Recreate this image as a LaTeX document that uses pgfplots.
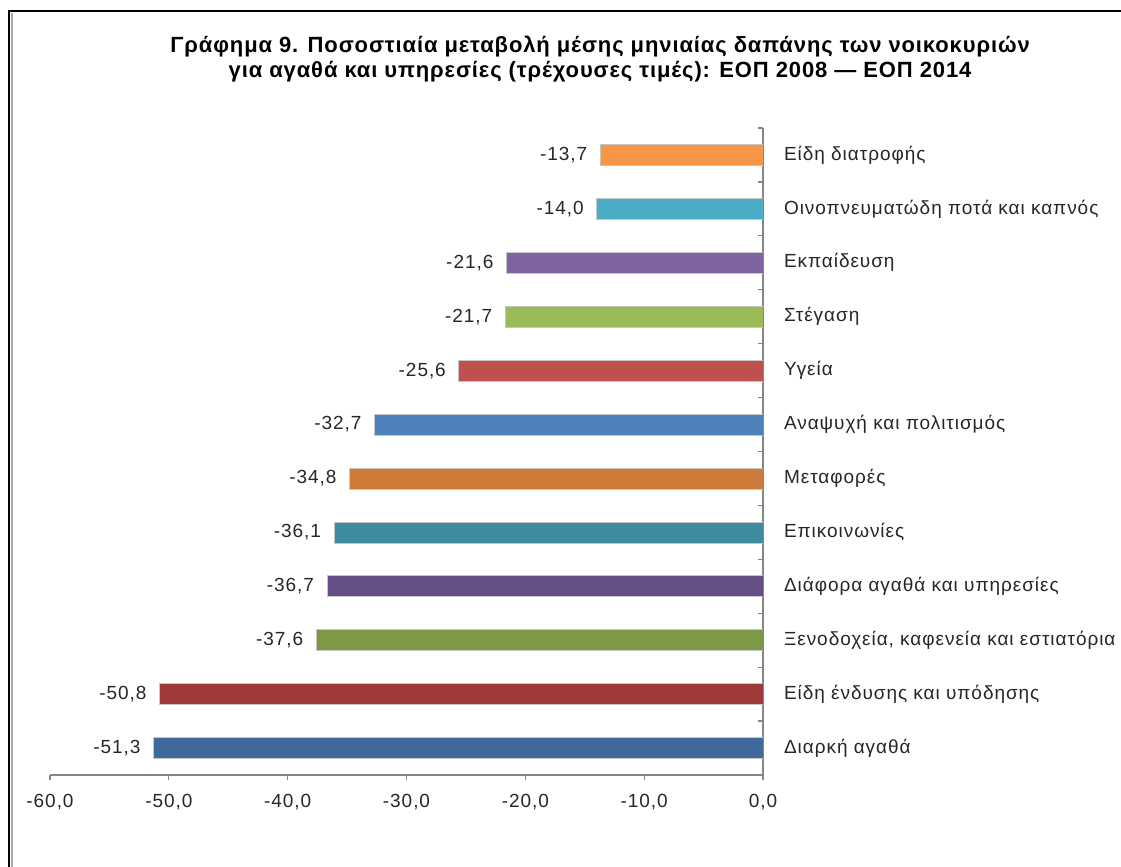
\documentclass[border=0pt]{standalone}
\usepackage{pgfplots}
\pgfplotsset{compat=1.18}
\usepackage{fontspec}
\setmainfont{Liberation Sans}[LetterSpace=5]
\newfontfamily\titlefont{Liberation Sans}[LetterSpace=4]
\definecolor{c1}{RGB}{247,150,70}
\definecolor{c2}{RGB}{75,172,198}
\definecolor{c3}{RGB}{128,100,162}
\definecolor{c4}{RGB}{155,187,89}
\definecolor{c5}{RGB}{192,80,77}
\definecolor{c6}{RGB}{79,129,189}
\definecolor{c7}{RGB}{205,122,58}
\definecolor{c8}{RGB}{62,140,161}
\definecolor{c9}{RGB}{102,79,135}
\definecolor{c10}{RGB}{124,153,71}
\definecolor{c11}{RGB}{158,58,56}
\definecolor{c12}{RGB}{64,106,156}
\definecolor{axgray}{RGB}{134,134,134}
\begin{document}
\begin{tikzpicture}
% page = 1121x867 px, 1px = 0.5pt, origin at top left
\path[use as bounding box] (0,0) rectangle (560.5pt,-433.5pt);
\draw[line width=1.3pt] (4.5pt,-433.5pt) -- (4.5pt,-5.5pt) -- (560.5pt,-5.5pt);
\draw[gray!70, line width=0.7pt] (5.9pt,-433.5pt) -- (5.9pt,-6.3pt);
\node[font=\titlefont\bfseries\fontsize{11}{12.5}\selectfont, align=center] at (300pt,-29.5pt)
  {Γράφημα 9. Ποσοστιαία μεταβολή μέσης μηνιαίας δαπάνης των νοικοκυριών\\
   για αγαθά και υπηρεσίες (τρέχουσες τιμές): ΕΟΠ 2008 — ΕΟΠ 2014};
\begin{axis}[
  at={(25pt,-387.5pt)}, anchor=south west,
  scale only axis, width=356.5pt, height=323.5pt,
  xbar, bar width=10.5pt, bar shift=0pt,
  xmin=-60, xmax=0, ymin=0.5, ymax=12.5,
  axis x line*=bottom, axis y line*=right,
  axis line style={axgray, line width=0.6pt},
  xtick={-60,-50,...,0},
  minor xtick={-60,-50,...,0},
  ytick={1,...,12},
  yticklabels={Διαρκή αγαθά, Είδη ένδυσης και υπόδησης, {Ξενοδοχεία, καφενεία και εστιατόρια},
    Διάφορα αγαθά και υπηρεσίες, Επικοινωνίες, Μεταφορές, Αναψυχή και πολιτισμός, Υγεία,
    Στέγαση, Εκπαίδευση, Οινοπνευματώδη ποτά και καπνός, Είδη διατροφής},
  minor ytick={1.5,2.5,...,12.5},
  major tick length=0pt,
  minor tick length=2.5pt,
  tick align=outside,
  minor x tick style={axgray, line width=0.6pt},
  minor y tick style={axgray, line width=0.6pt, xshift=-2.5pt},
  yticklabel style={anchor=west, xshift=7pt, font=\fontsize{9.5}{11}\selectfont, text=black!85},
  xticklabel style={font=\fontsize{9.5}{11}\selectfont, text=black!85, yshift=-6pt},
  /pgf/number format/.cd, fixed, fixed zerofill, precision=1, use comma, assume math mode=true,
  /pgfplots/.cd,
  nodes near coords,
  every node near coord/.append style={anchor=east, xshift=-3pt,
    font=\fontsize{9.5}{11}\selectfont, text=black!85},
  every axis plot/.append style={draw=white!55!gray, line width=0.3pt},
]
\addplot[fill=c12] coordinates {(-51.3,1)};
\addplot[fill=c11] coordinates {(-50.8,2)};
\addplot[fill=c10] coordinates {(-37.6,3)};
\addplot[fill=c9] coordinates {(-36.7,4)};
\addplot[fill=c8] coordinates {(-36.1,5)};
\addplot[fill=c7] coordinates {(-34.8,6)};
\addplot[fill=c6] coordinates {(-32.7,7)};
\addplot[fill=c5] coordinates {(-25.6,8)};
\addplot[fill=c4] coordinates {(-21.7,9)};
\addplot[fill=c3] coordinates {(-21.6,10)};
\addplot[fill=c2] coordinates {(-14.0,11)};
\addplot[fill=c1] coordinates {(-13.7,12)};
\end{axis}
\end{tikzpicture}
\end{document}
